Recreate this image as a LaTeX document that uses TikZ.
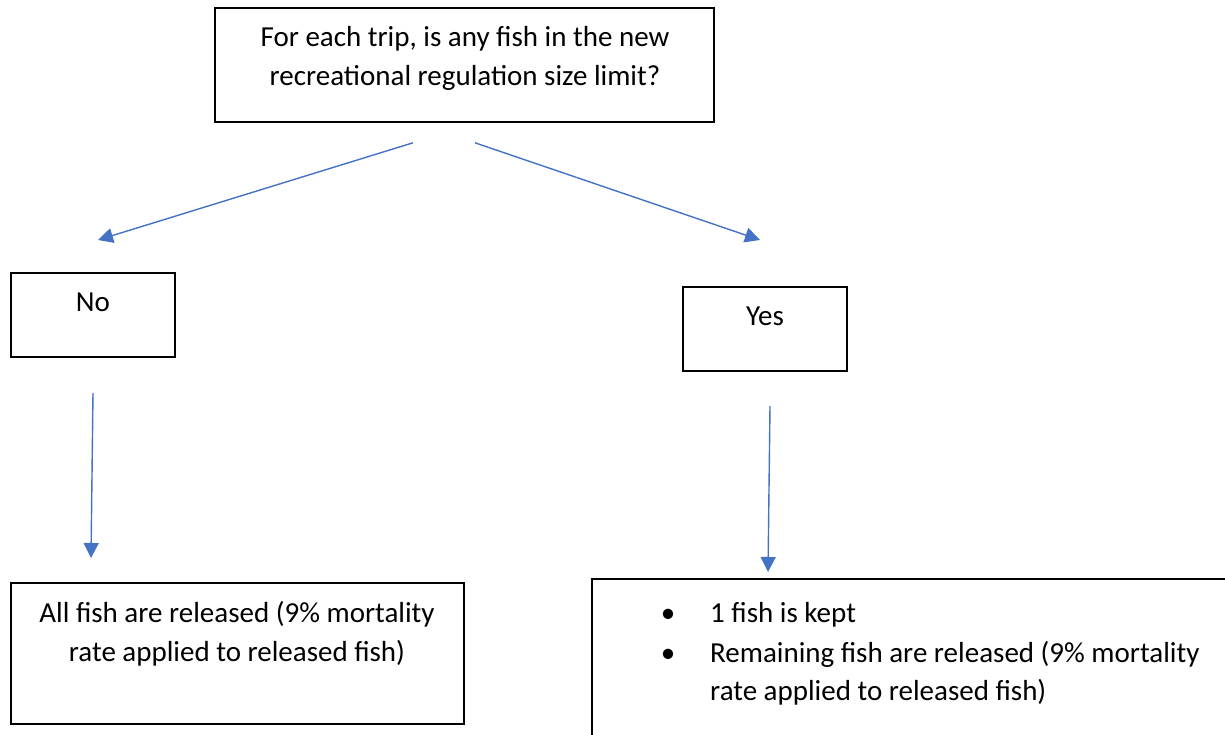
\documentclass[tikz,border=0pt]{standalone}
\usepackage{fontspec}
\setmainfont{Carlito}
\usetikzlibrary{arrows.meta}
\definecolor{arrowblue}{RGB}{68,114,196}
\tikzset{
  box/.style={draw=black, line width=1.6pt, inner sep=0pt},
  txt/.style={font=\fontsize{29}{38.5}\selectfont, align=center, inner sep=0pt, anchor=base},
  item/.style={font=\fontsize{29}{38}\selectfont, align=left, inner sep=0pt, anchor=base west},
  link/.style={draw=arrowblue, line width=1.4pt, -{Triangle[length=15pt,width=15pt]}}
}
\begin{document}
\begin{tikzpicture}[x=1pt, y=-1pt]
\useasboundingbox (0,0) rectangle (1225,734);
\clip (0,0) rectangle (1225,734);
% boxes
\node[box, minimum width=499pt, minimum height=114pt] (top) at (464.5,65) {};
\node[box, minimum width=164pt, minimum height=84pt] (no) at (93,315) {};
\node[box, minimum width=164pt, minimum height=84pt] (yes) at (765,329) {};
\node[box, minimum width=453pt, minimum height=141pt] (released) at (237.5,653.5) {};
\draw[box] (592,579) rectangle (1240,750);
% texts (base = last line)
\node[txt] (toptxt) at (465,85)
  {For each trip, is any fish in the new\\recreational regulation size limit?};
\node[txt] (notxt) at (93,311) {No};
\node[txt] (yestxt) at (765,325) {Yes};
\node[txt] (reltxt) at (237,661)
  {All fish are released (9\% mortality\\rate applied to released fish)};
\node[txt] (bullet1) at (668,622) {\textbullet};
\node[txt] (bullet2) at (668,662) {\textbullet};
\node[item] (kept1) at (710,622) {1 fish is kept};
\node[item] (kept2) at (710,700)
  {Remaining fish are released (9\% mortality\\rate applied to released fish)};
% connectors
\coordinate (noin) at (98,240);
\coordinate (yesin) at (760,240);
\coordinate (noout) at (93,393);
\coordinate (yesout) at (770,406);
\coordinate (relin) at (91,558);
\coordinate (keptin) at (768,572);
\draw[link] ([xshift=-51.5pt,yshift=-20pt]top.south) -- (noin);
\draw[link] ([xshift=10.5pt,yshift=-20pt]top.south) -- (yesin);
\draw[link] (noout) -- (relin);
\draw[link] (yesout) -- (keptin);
\end{tikzpicture}
\end{document}
